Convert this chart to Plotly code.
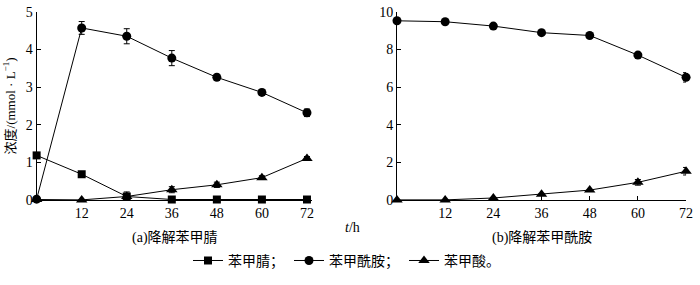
import plotly.graph_objects as go

hours = [0, 12, 24, 36, 48, 60, 72]
tick_hours = [12, 24, 36, 48, 60, 72]

# (a) 降解苯甲腈
a_nitrile = [1.19, 0.69, 0.10, 0.02, 0.02, 0.02, 0.02]
a_amide = [0.03, 4.57, 4.35, 3.77, 3.26, 2.86, 2.32]
a_amide_err = [0.0, 0.17, 0.2, 0.2, 0.08, 0.08, 0.1]
a_acid = [0.02, 0.01, 0.10, 0.28, 0.41, 0.60, 1.11]
a_acid_err = [0.0, 0.0, 0.12, 0.08, 0.07, 0.05, 0.05]

# (b) 降解苯甲酰胺
b_amide = [9.52, 9.47, 9.24, 8.89, 8.74, 7.70, 6.52]
b_amide_err = [0.0, 0.0, 0.0, 0.0, 0.0, 0.0, 0.25]
b_acid = [0.02, 0.02, 0.12, 0.32, 0.54, 0.95, 1.54]
b_acid_err = [0.0, 0.0, 0.0, 0.0, 0.0, 0.15, 0.2]

names = ["苯甲腈；", "苯甲酰胺；", "苯甲酸。"]

SERIF = "Liberation Serif, Times New Roman, Noto Sans CJK SC"
line = dict(color="black", width=1)

def err(vals):
    return dict(type="data", array=vals, visible=True, color="black", thickness=1, width=3)

fig = go.Figure()
fig.add_trace(go.Scatter(x=hours, y=a_nitrile, mode="lines+markers", name=names[0],
                         line=line, marker=dict(symbol="square", size=8, color="black"),
                         xaxis="x", yaxis="y", cliponaxis=False))
fig.add_trace(go.Scatter(x=hours, y=a_amide, mode="lines+markers", name=names[1],
                         line=line, marker=dict(symbol="circle", size=9, color="black"),
                         error_y=err(a_amide_err), xaxis="x", yaxis="y", cliponaxis=False))
fig.add_trace(go.Scatter(x=hours, y=a_acid, mode="lines+markers", name=names[2],
                         line=line, marker=dict(symbol="triangle-up", size=10, color="black"),
                         error_y=err(a_acid_err), xaxis="x", yaxis="y", cliponaxis=False))
fig.add_trace(go.Scatter(x=hours, y=b_amide, mode="lines+markers", name=names[1], showlegend=False,
                         line=line, marker=dict(symbol="circle", size=9, color="black"),
                         error_y=err(b_amide_err), xaxis="x2", yaxis="y2", cliponaxis=False))
fig.add_trace(go.Scatter(x=hours, y=b_acid, mode="lines+markers", name=names[2], showlegend=False,
                         line=line, marker=dict(symbol="triangle-up", size=10, color="black"),
                         error_y=err(b_acid_err), xaxis="x2", yaxis="y2", cliponaxis=False))

W, H = 700, 285
ydom = [(H - 204) / H, 1 - 5 / H]

axis_common = dict(showline=True, linecolor="black", linewidth=1, showgrid=False, zeroline=False,
                   ticks="inside", ticklen=4, tickcolor="black", ticklabeloverflow="allow",
                   tickfont=dict(family=SERIF, size=14, color="black"))

fig.update_layout(
    width=W, height=H,
    margin=dict(l=0, r=0, t=0, b=0),
    paper_bgcolor="white", plot_bgcolor="white",
    font=dict(family=SERIF, color="black"),
    xaxis=dict(domain=[37 / W, 315 / W], range=[0, 73.3], tickvals=tick_hours, anchor="y", **axis_common),
    yaxis=dict(domain=ydom, range=[0, 5], tickvals=[0, 1, 2, 3, 4, 5], anchor="x", **axis_common),
    xaxis2=dict(domain=[401 / W, 693 / W], range=[0, 72], tickvals=tick_hours, anchor="y2", **axis_common),
    yaxis2=dict(domain=ydom, range=[0, 10], tickvals=[0, 2, 4, 6, 8, 10], anchor="x2", **axis_common),
    showlegend=True,
    legend=dict(orientation="h", x=0.5, xanchor="center", y=(H - 268) / H, yanchor="middle",
                font=dict(family=SERIF, size=14), itemwidth=30, tracegroupgap=0,
                bgcolor="rgba(0,0,0,0)"),
    annotations=[
        dict(text="浓度/(mmol · L<sup>−1</sup>)", x=9 / W, y=(H - 104) / H, xref="paper", yref="paper",
             xanchor="center", yanchor="middle", textangle=-90,
             showarrow=False, font=dict(family=SERIF, size=13)),
        dict(text="<i>t</i>/h", x=356 / W, y=(H - 233) / H, xref="paper", yref="paper",
             xanchor="center", yanchor="middle", showarrow=False, font=dict(family=SERIF, size=14)),
        dict(text="(a)降解苯甲腈", x=177 / W, y=(H - 243) / H, xref="paper", yref="paper",
             xanchor="center", yanchor="middle", showarrow=False, font=dict(family=SERIF, size=14)),
        dict(text="(b)降解苯甲酰胺", x=547 / W, y=(H - 243) / H, xref="paper", yref="paper",
             xanchor="center", yanchor="middle", showarrow=False, font=dict(family=SERIF, size=14)),
    ],
)

fig.write_html("out.html", config={"displayModeBar": False},
               post_script="document.body.style.margin='0';document.body.style.overflow='hidden';")
